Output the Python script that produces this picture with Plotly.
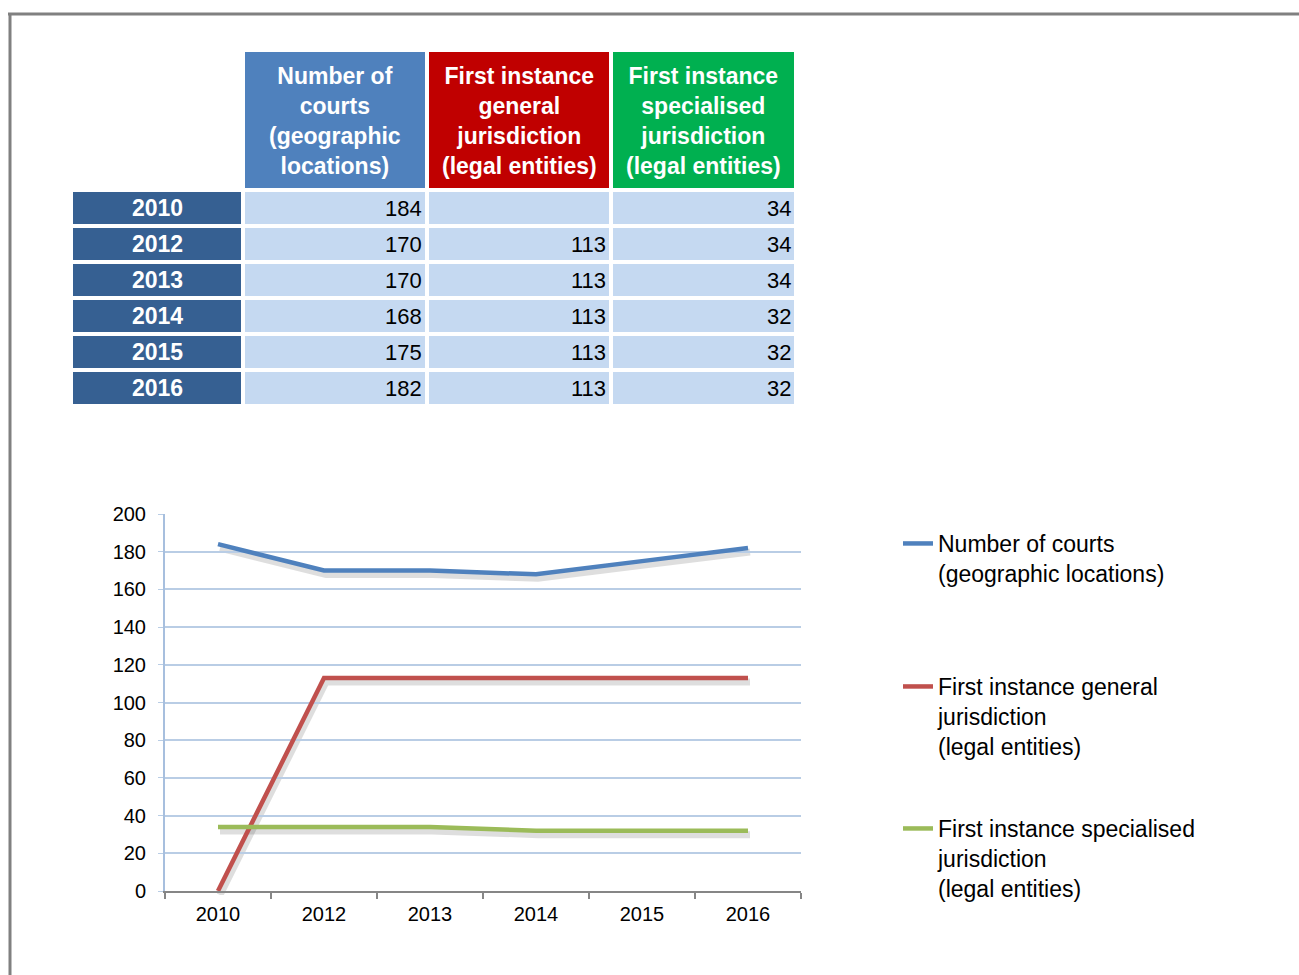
import plotly.graph_objects as go

# data
years = ["2010", "2012", "2013", "2014", "2015", "2016"]
courts = [184, 170, 170, 168, 175, 182]
general = [None, 113, 113, 113, 113, 113]
specialised = [34, 34, 34, 32, 32, 32]

headers = ["Number of<br>courts<br>(geographic<br>locations)",
           "First instance<br>general<br>jurisdiction<br>(legal entities)",
           "First instance<br>specialised<br>jurisdiction<br>(legal entities)"]
legend_names = ["Number of courts<br>(geographic locations)",
                "First instance general<br>jurisdiction<br>(legal entities)",
                "First instance specialised<br>jurisdiction<br>(legal entities)"]

W, H = 1299, 975
FONT = "Liberation Sans, Arial, sans-serif"
line_colors = ["#4F81BD", "#C0504D", "#9BBB59"]
# table fill colours: empty corner, 3 headers, year labels, body
cell_colors = ["#FFFFFF", "#4F81BD", "#C00000", "#00B050", "#366092", "#C5D9F1"]


def px_x(p):
    return p / W


def px_y(p):
    return 1 - p / H


fig = go.Figure()

# ---------------- table (heatmap bricks on their own axes) ----------------
col_widths = [172, 184, 184, 185]
header_h, row_h = 140, 36
x_edges = [0]
for w in col_widths:
    x_edges.append(x_edges[-1] + w)
y_edges = [0, header_h] + [header_h + row_h * (i + 1) for i in range(len(years))]

z = [[0, 1, 2, 3]] + [[4, 5, 5, 5] for _ in years]
n = len(cell_colors)
cscale = []
for i, c in enumerate(cell_colors):
    cscale += [[i / n, c], [(i + 1) / n, c]]

fig.add_trace(go.Heatmap(z=z, x=x_edges, y=y_edges, xaxis="x3", yaxis="y3",
                         colorscale=cscale, zmin=-0.5, zmax=n - 0.5, showscale=False,
                         xgap=4, ygap=4, hoverinfo="skip"))

annotations = []
for i, h in enumerate(headers):
    annotations.append(dict(x=(x_edges[i + 1] + x_edges[i + 2]) / 2, y=header_h / 2 + 1,
                            xref="x3", yref="y3", text="<b>" + h + "</b>", showarrow=False,
                            font=dict(family=FONT, size=23, color="white")))
for r, yr in enumerate(years):
    yc = (y_edges[r + 1] + y_edges[r + 2]) / 2
    annotations.append(dict(x=(x_edges[0] + x_edges[1]) / 2, y=yc, xref="x3", yref="y3",
                            text="<b>" + yr + "</b>", showarrow=False,
                            font=dict(family=FONT, size=23, color="white")))
    for c, col in enumerate([courts, general, specialised]):
        if col[r] is None:
            continue
        annotations.append(dict(x=x_edges[c + 2] - 3, y=yc, xref="x3", yref="y3",
                                xanchor="right", text=str(col[r]), showarrow=False,
                                font=dict(family=FONT, size=22, color="black")))

# ---------------- line chart ----------------
# the chart plots the missing 2010 value as zero
series = [courts, [0 if v is None else v for v in general], specialised]

# soft shadows (same data on a slightly offset hidden subplot underneath)
for vals in series:
    fig.add_trace(go.Scatter(x=years, y=vals, mode="lines", xaxis="x", yaxis="y",
                             line=dict(color="rgba(0,0,0,0.13)", width=7),
                             showlegend=False, hoverinfo="skip"))

leg_ids = ["legend", "legend2", "legend3"]
for vals, name, col, lg in zip(series, legend_names, line_colors, leg_ids):
    fig.add_trace(go.Scatter(x=years, y=vals, mode="lines", name=name, xaxis="x2", yaxis="y2",
                             line=dict(color=col, width=4.5), legend=lg))

dom_x = [px_x(165), px_x(801)]
dom_y = [px_y(891), px_y(514)]
fig.update_layout(
    width=W, height=H,
    margin=dict(l=0, r=0, t=0, b=0, autoexpand=False),
    paper_bgcolor="white", plot_bgcolor="rgba(0,0,0,0)",
    font=dict(family=FONT, size=20, color="black"),
    annotations=annotations,
    xaxis=dict(domain=[dom_x[0] + 2 / W, dom_x[1] + 2 / W], type="category",
               range=[-0.5, 5.5], visible=False, anchor="y"),
    yaxis=dict(domain=[dom_y[0] - 4 / H, dom_y[1] - 4 / H], range=[0, 200],
               visible=False, anchor="x"),
    xaxis2=dict(domain=dom_x, type="category", range=[-0.5, 5.5], anchor="y2",
                tickson="boundaries", ticks="outside", ticklen=6, tickcolor="#868686",
                tickwidth=1.5, showline=True, linecolor="#868686", linewidth=1.5,
                showgrid=False, zeroline=False, ticklabelstandoff=4,
                tickfont=dict(size=20)),
    yaxis2=dict(domain=dom_y, range=[0, 200], dtick=20, anchor="x2", showline=True,
                linecolor="#A7BFDE", linewidth=2, gridcolor="#B9CDE5", gridwidth=1.5,
                ticks="outside", ticklen=5, tickcolor="#B9CDE5", zeroline=False,
                ticklabelstandoff=8, tickfont=dict(size=20)),
    xaxis3=dict(domain=[px_x(71), px_x(71 + x_edges[-1])], range=[0, x_edges[-1]],
                visible=False, anchor="y3", fixedrange=True),
    yaxis3=dict(domain=[px_y(50 + y_edges[-1]), px_y(50)], range=[y_edges[-1], 0],
                visible=False, anchor="x3", fixedrange=True),
    shapes=[
        dict(type="line", xref="paper", yref="paper", x0=px_x(8), x1=1,
             y0=px_y(14), y1=px_y(14), line=dict(color="#808080", width=3)),
        dict(type="line", xref="paper", yref="paper", x0=px_x(10), x1=px_x(10),
             y0=px_y(14), y1=0, line=dict(color="#808080", width=3)),
    ],
)

leg_tops = [522, 665, 807]
for lg, top in zip(leg_ids, leg_tops):
    fig.update_layout({lg: dict(x=px_x(898), y=px_y(top), xanchor="left", yanchor="top",
                                bgcolor="rgba(0,0,0,0)", valign="top",
                                font=dict(family=FONT, size=23, color="black"))})

fig.write_html("out.html", config={"displayModeBar": False},
               post_script="document.body.style.margin='0px';")
